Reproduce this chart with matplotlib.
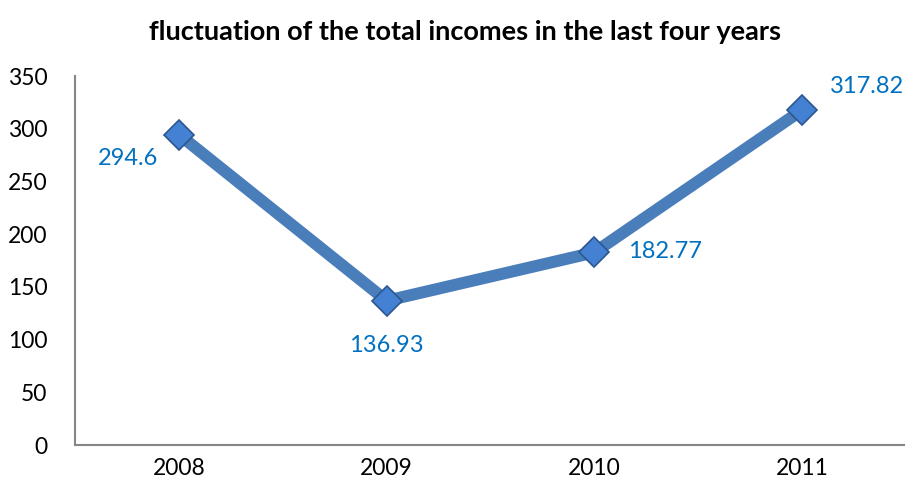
import matplotlib
matplotlib.use('Agg')
from matplotlib import pyplot as plt

years = ['2008', '2009', '2010', '2011']
incomes = [294.6, 136.93, 182.77, 317.82]
y_ticks = [0, 50, 100, 150, 200, 250, 300, 350]

# where each value label sits relative to its point (points)
label_offsets = [(-37, -17), (0, -32), (24, 1), (20, 17)]
label_align = ['center', 'center', 'left', 'left']

plt.rcParams['font.family'] = ['Lato', 'DejaVu Sans']

fig = plt.figure(figsize=(9.05, 4.88), dpi=100)
ax = fig.add_axes([0.083, 0.088, 0.918, 0.756])

x = range(len(years))
ax.plot(x, incomes, color='#4a7ebb', linewidth=8.6, solid_capstyle='butt', zorder=2)
ax.plot(x, incomes, linestyle='none', marker='D', markersize=15.5,
        markerfacecolor='#4581d2', markeredgecolor='#2b568f', markeredgewidth=1.2, zorder=3)

for i, val in enumerate(incomes):
    ax.annotate('{:g}'.format(val), (i, val), xytext=label_offsets[i], textcoords='offset points',
                ha=label_align[i], va='center', fontsize=17, color='#0070c0')

ax.set_xlim(-0.5, len(years) - 0.5)
ax.set_ylim(0, 350)
ax.set_yticks(y_ticks)
ax.set_xticks(list(x))
ax.set_xticklabels(years)
ax.tick_params(axis='both', length=0, labelsize=16.5, colors='black')
ax.tick_params(axis='y', pad=20)
ax.tick_params(axis='x', pad=9)

for side in ['top', 'right']:
    ax.spines[side].set_visible(False)
for side in ['left', 'bottom']:
    ax.spines[side].set_color('#868686')
    ax.spines[side].set_linewidth(1.5)

fig.text(0.514, 0.935, 'fluctuation of the total incomes in the last four years',
         ha='center', va='center', fontsize=19.5, fontweight='bold')

fig.savefig('out.png', dpi=100)
